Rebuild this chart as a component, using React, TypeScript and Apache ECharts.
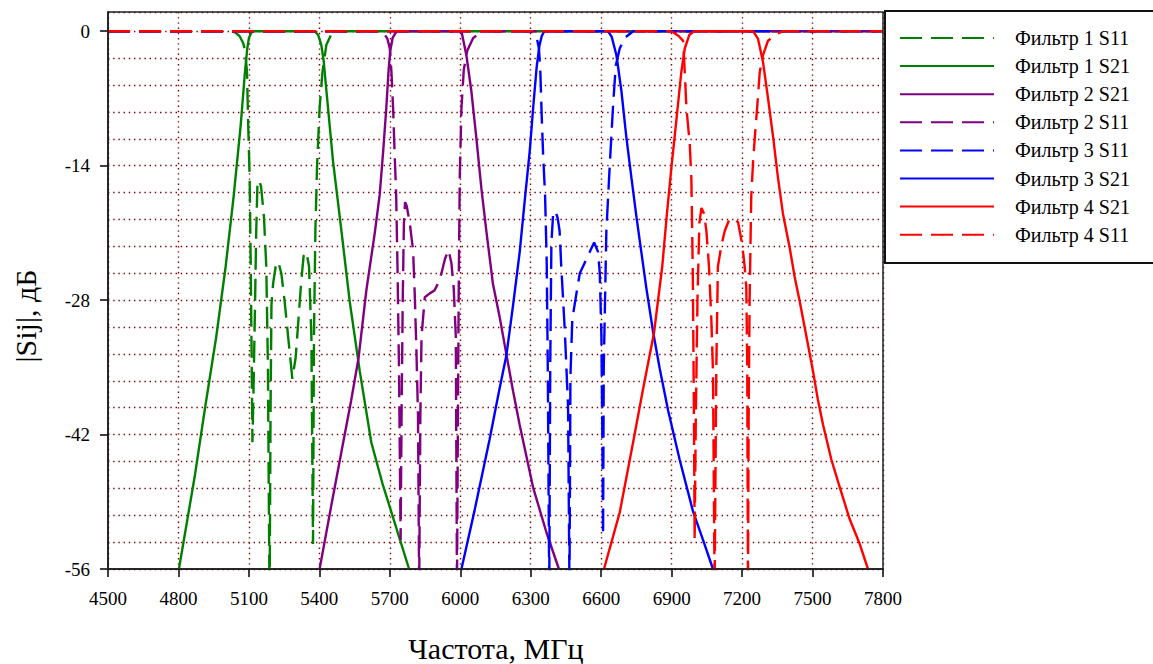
import React, { useEffect, useRef } from "react";
import * as echarts from "echarts";

// ---------- data (frequency MHz, |Sij| dB) ----------
const seriesNames = [
  "Фильтр 1 S11",
  "Фильтр 1 S21",
  "Фильтр 2 S21",
  "Фильтр 2 S11",
  "Фильтр 3 S11",
  "Фильтр 3 S21",
  "Фильтр 4 S21",
  "Фильтр 4 S11",
];

const f1S11 = [
  [4500, 0], [5000, 0], [5039, -0.1], [5060, -0.5], [5075, -1.2], [5084, -2], [5092, -4.3], [5097, -9.8],
  [5103, -15], [5108, -25], [5112, -35], [5115, -42.8], [5119, -38], [5125, -30], [5131, -21], [5136, -16.2],
  [5143, -15.5], [5152, -16.2], [5164, -19.3], [5174, -24.5], [5181, -35], [5188, -60], [5192, -40],
  [5196, -28.5], [5203, -26.3], [5214, -24.5], [5225, -24], [5238, -25.2], [5252, -28.1], [5267, -31.8],
  [5285, -36.2], [5299, -34], [5311, -30], [5323, -26], [5333, -23.4], [5345, -23], [5356, -24.5],
  [5366, -31.8], [5373, -53.4], [5377, -31.8], [5383, -20.8], [5390, -14.2], [5401, -8], [5413, -4.3],
  [5430, -1.4], [5451, -0.3], [5472, 0], [7800, 0],
];

const f1S21 = [
  [4802, -56], [4869, -46.4], [4914, -39.1], [4961, -31.8], [5001, -24.5], [5035, -17.2], [5065, -9.8],
  [5083, -4.3], [5093, -1.8], [5100, -0.7], [5110, -0.15], [5118, 0], [5380, 0], [5395, -0.4], [5408, -1.4],
  [5418, -3], [5430, -6.2], [5458, -13.5], [5494, -20.8], [5529, -28.1], [5572, -35.4], [5621, -42.8],
  [5671, -47.3], [5707, -50.1], [5782, -56],
];

const f2S21 = [
  [5401, -56], [5450, -49.5], [5500, -43], [5535, -38.5], [5567, -34], [5600, -27], [5636, -21],
  [5657, -17], [5672, -12.4], [5685, -8], [5695, -4], [5702, -2], [5712, -0.7], [5725, -0.15], [5735, 0],
  [6005, 0], [6026, -2.5], [6047, -6.2], [6068, -11], [6090, -16.4], [6111, -20.8], [6139, -26.3],
  [6168, -29.8], [6196, -33.6], [6225, -37.5], [6253, -41], [6310, -47.5], [6367, -52.2], [6420, -56],
];

const f2S11 = [
  [4500, 0], [5650, 0], [5671, -0.1], [5690, -0.8], [5700, -1.8], [5707, -4.3], [5714, -8], [5720, -12.4],
  [5727, -17], [5733, -25], [5739, -35], [5743, -45], [5746, -53], [5750, -40], [5755, -28], [5760, -20],
  [5765, -17.8], [5772, -18.2], [5785, -20], [5799, -22.8], [5806, -27.3], [5813, -33], [5820, -40],
  [5825, -58], [5830, -40], [5835, -31.8], [5849, -27.7], [5870, -27.3], [5890, -27], [5905, -26.3],
  [5920, -25.2], [5935, -23.7], [5950, -22.8], [5962, -24.1], [5972, -26.7], [5981, -31.8], [5986, -58],
  [5990, -40], [5994, -25], [5998, -15], [6005, -8], [6015, -4], [6030, -2], [6055, -0.7], [6097, 0],
  [7800, 0],
];

const f3S11 = [
  [4500, 0], [6300, 0], [6312, -0.2], [6325, -0.6], [6335, -1.8], [6341, -4.3], [6347, -9], [6353, -13],
  [6361, -17], [6368, -24], [6373, -36], [6376, -48], [6379, -58], [6383, -35], [6388, -22], [6395, -19.2],
  [6405, -18.7], [6415, -19.5], [6423, -20.8], [6430, -24.5], [6445, -31.1], [6459, -39.1], [6465, -58],
  [6469, -36], [6477, -30], [6494, -27.4], [6509, -25.2], [6530, -24.1], [6551, -23], [6570, -22],
  [6587, -23], [6594, -25.2], [6601, -31.8], [6606, -45], [6608, -52.5], [6611, -35], [6622, -20.8],
  [6636, -14.2], [6650, -8], [6662, -3.6], [6679, -1.8], [6700, -0.7], [6736, 0], [7800, 0],
];

const f3S21 = [
  [6005, -56], [6060, -50], [6125, -42.5], [6165, -37.5], [6196, -33.8], [6225, -28.5], [6253, -23],
  [6275, -17.5], [6296, -12.4], [6312, -7.5], [6325, -3.8], [6337, -1.5], [6347, -0.5], [6358, 0],
  [6629, 0], [6645, -0.6], [6665, -2.5], [6686, -6.2], [6707, -11], [6729, -15.3], [6750, -19.3],
  [6771, -23], [6792, -26.7], [6821, -31.3], [6849, -35.1], [6885, -39.5], [6934, -44.6], [6991, -50],
  [7034, -53], [7076, -56],
];

const f4S21 = [
  [6612, -56], [6679, -50.1], [6736, -42.8], [6778, -37.3], [6825, -31.4], [6860, -24.5], [6880, -19],
  [6899, -14.2], [6920, -9.3], [6941, -4.3], [6956, -1.8], [6975, -0.4], [6995, 0], [7247, 0],
  [7268, -0.8], [7289, -3.2], [7310, -6.9], [7332, -11], [7353, -15.3], [7374, -19], [7403, -22.6],
  [7424, -25.6], [7445, -28.1], [7474, -31.8], [7502, -35.4], [7523, -38.4], [7545, -41], [7580, -44.6],
  [7616, -47.5], [7658, -50.8], [7701, -53.4], [7736, -56],
];

const f4S11 = [
  [4500, 0], [6890, 0], [6906, -0.1], [6930, -0.5], [6949, -1.0], [6956, -4.3], [6963, -8], [6977, -11.7],
  [6984, -15.3], [6990, -25], [6995, -40], [6998, -53], [7003, -40], [7010, -28], [7018, -20], [7027, -18.4],
  [7038, -19], [7048, -20.8], [7059, -24.5], [7069, -30], [7076, -35.4], [7083, -58], [7090, -35.4],
  [7097, -24.5], [7112, -22.3], [7126, -20.8], [7144, -19.7], [7168, -19.5], [7183, -19.9], [7201, -22.3],
  [7211, -24.5], [7218, -26.7], [7222, -35], [7225, -58], [7228, -40], [7232, -28.1], [7239, -17.2],
  [7247, -13.5], [7258, -9.8], [7264, -8], [7275, -4.3], [7289, -2.5], [7310, -1.0], [7346, -0.3],
  [7374, 0], [7800, 0],
];

const seriesData = [f1S11, f1S21, f2S21, f2S11, f3S11, f3S21, f4S21, f4S11];
const seriesColors = ["#008000", "#008000", "#800080", "#800080", "#0000ff", "#0000ff", "#ff0000", "#ff0000"];
const seriesDashed = [true, false, false, true, true, false, false, true];

const yLabelValues = [-56, -42, -28, -14, 0];
const xTitle = "Частота, МГц";
const yTitle = "|Sij|, дБ";

const FONT = '"Liberation Serif", "Times New Roman", serif';
const GRID_COLOR = "#800000";

export default function App() {
  const ref = useRef<HTMLDivElement>(null);

  useEffect(() => {
    if (!ref.current) return;
    const chart = echarts.init(ref.current, undefined, { renderer: "svg" });

    const series = seriesNames.map((name, i) => ({
      name,
      type: "line",
      xAxisIndex: 0,
      yAxisIndex: 0,
      data: seriesData[i],
      showSymbol: false,
      symbol: "none",
      clip: true,
      color: seriesColors[i],
      lineStyle: {
        color: seriesColors[i],
        width: 2.4,
        type: seriesDashed[i] ? [22, 9] : "solid",
      },
      z: 2 + i,
    }));

    const dotted = { color: GRID_COLOR, type: [1.4, 3.8], width: 1.4 };

    chart.setOption({
      animation: false,
      backgroundColor: "#ffffff",
      textStyle: { fontFamily: FONT },
      grid: { left: 108, right: 270, top: 12, bottom: 95, containLabel: false },
      xAxis: {
        type: "value",
        min: 4500,
        max: 7800,
        interval: 300,
        axisLine: { show: true, onZero: false, lineStyle: { color: "#000", width: 1.5 } },
        axisTick: { show: true, inside: false, length: 8, lineStyle: { color: "#000", width: 1.5 } },
        axisLabel: {
          color: "#000",
          fontSize: 19,
          fontFamily: FONT,
          margin: 20,
          formatter: (v: number) => String(v),
        },
        splitLine: { show: true, lineStyle: dotted },
      },
      yAxis: [
        {
          // grid axis: dotted lines every 2.8 dB
          type: "value",
          position: "left",
          min: -56,
          max: 2,
          interval: 2.8,
          axisLine: { show: false, onZero: false },
          axisTick: { show: false },
          axisLabel: { show: false },
          splitLine: { show: true, lineStyle: dotted },
        },
        {
          // labelled axis: ticks and labels every 14 dB
          type: "value",
          position: "left",
          min: -56,
          max: 2,
          interval: 2.8,
          axisLine: { show: true, onZero: false, lineStyle: { color: "#000", width: 1.5 } },
          axisTick: {
            show: true,
            inside: false,
            length: 8,
            customValues: yLabelValues,
            lineStyle: { color: "#000", width: 1.5 },
          },
          axisLabel: {
            color: "#000",
            fontSize: 19,
            fontFamily: FONT,
            margin: 18,
            customValues: yLabelValues,
            formatter: (v: number) => {
              const r = Math.round(v);
              return Math.abs(v - r) < 1e-6 && r % 14 === 0 ? String(r) : "";
            },
          },
          splitLine: { show: false },
        },
      ],
      legend: {
        orient: "vertical",
        left: 899,
        top: 28,
        itemWidth: 94,
        itemHeight: 14,
        itemGap: 8.1,
        padding: 0,
        data: seriesNames,
        itemStyle: { opacity: 0, borderWidth: 0 },
        textStyle: {
          fontSize: 20,
          fontFamily: FONT,
          color: "#000",
          padding: [0, 0, 0, 16],
        },
      },
      graphic: [
        {
          type: "rect",
          z: 50,
          silent: true,
          shape: { x: 108, y: 12, width: 775, height: 557 },
          style: { fill: "none", stroke: "#222", lineWidth: 1.5 },
        },
        {
          type: "rect",
          z: 50,
          silent: true,
          shape: { x: 885, y: 11, width: 280, height: 252 },
          style: { fill: "none", stroke: "#111", lineWidth: 2 },
        },
        {
          type: "text",
          z: 50,
          x: 496,
          y: 648,
          style: {
            text: xTitle,
            fontSize: 30,
            fontFamily: FONT,
            fill: "#000",
            align: "center",
            verticalAlign: "middle",
          },
        },
        {
          type: "text",
          z: 50,
          x: 25,
          y: 316,
          rotation: Math.PI / 2,
          style: {
            text: yTitle,
            fontSize: 30,
            fontFamily: FONT,
            fill: "#000",
            align: "center",
            verticalAlign: "middle",
          },
        },
      ],
      series,
    });

    return () => chart.dispose();
  }, []);

  return (
    <div
      ref={ref}
      style={{ position: "fixed", left: 0, top: 0, width: 1153, height: 664, background: "#fff" }}
    />
  );
}
